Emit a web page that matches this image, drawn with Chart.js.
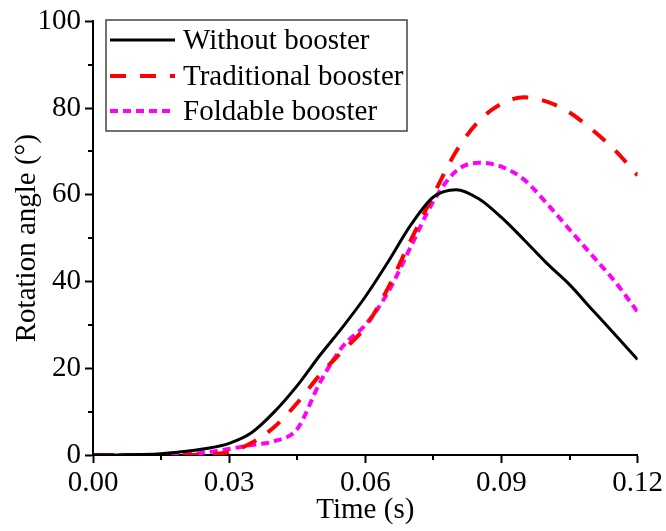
<!DOCTYPE html>
<html>
<head>
<meta charset="utf-8">
<script src="https://cdn.jsdelivr.net/npm/chart.js@4.4.1/dist/chart.umd.min.js"></script>
<style>
  html, body { margin: 0; padding: 0; background: #ffffff; }
  #wrap { width: 666px; height: 531px; }
</style>
</head>
<body>
<div id="wrap"><canvas id="c" width="666" height="531"></canvas></div>
<script>
// ---- data ----
const time = [0, 0.005, 0.01, 0.015, 0.02, 0.025, 0.03, 0.035, 0.04, 0.045, 0.05, 0.055, 0.06, 0.065, 0.07, 0.075, 0.08, 0.085, 0.09, 0.095, 0.1, 0.105, 0.11, 0.115, 0.12];
const withoutBooster = [0, 0, 0.1, 0.3, 0.8, 1.5, 2.7, 5.2, 10, 16, 23, 29.5, 36.5, 44.5, 53, 59.5, 61.2, 59.1, 54.8, 49.6, 44.2, 39.3, 33.5, 27.8, 22];
const traditionalBooster = [0, 0, 0, 0, 0, 0.1, 0.7, 2.8, 6.5, 12, 18.5, 24, 29.5, 38.5, 49.5, 60, 70, 77, 81, 82.5, 81.5, 79, 75, 70.3, 64.5];
const foldableBooster = [0, 0, 0, 0, 0.1, 0.6, 1.4, 2.3, 3.2, 6, 16.7, 25, 30, 37.5, 48, 58.5, 65.5, 67.4, 66.5, 63.5, 58, 52, 46, 40, 33];
const seriesLabels = ['Without booster', 'Traditional booster', 'Foldable booster'];
const xTicks = [0, 0.03, 0.06, 0.09, 0.12];
const yTicks = [0, 20, 40, 60, 80, 100];
const xMinorTicks = [0.015, 0.045, 0.075, 0.105];
const yMinorTicks = [10, 30, 50, 70, 90];

const FONT = '"Liberation Serif", "Times New Roman", serif';
const FSIZE = 29;

function pts(ys) { return time.map((t, i) => ({ x: t, y: ys[i] })); }

const minorTickPlugin = {
  id: 'minorTicks',
  afterDraw(chart) {
    const ctx = chart.ctx;
    const xs = chart.scales.x, ys = chart.scales.y;
    ctx.save();
    ctx.strokeStyle = '#000';
    ctx.lineWidth = 2;
    ctx.beginPath();
    xMinorTicks.forEach(v => {
      const px = Math.round(xs.getPixelForValue(v));
      ctx.moveTo(px, ys.bottom);
      ctx.lineTo(px, ys.bottom + 5);
    });
    yMinorTicks.forEach(v => {
      const py = Math.round(ys.getPixelForValue(v));
      ctx.moveTo(xs.left, py);
      ctx.lineTo(xs.left - 5, py);
    });
    ctx.stroke();
    ctx.restore();
  }
};

const boxLegendPlugin = {
  id: 'boxLegend',
  afterDraw(chart) {
    const ctx = chart.ctx;
    const bx = 106, by = 20, bw = 301, bh = 111;
    ctx.save();
    ctx.fillStyle = '#fff';
    ctx.fillRect(bx, by, bw, bh);
    ctx.strokeStyle = '#444';
    ctx.lineWidth = 1.5;
    ctx.strokeRect(bx, by, bw, bh);
    const rows = [40, 76, 111];
    chart.data.datasets.forEach((ds, i) => {
      const y = rows[i];
      ctx.beginPath();
      ctx.setLineDash(ds.borderDash || []);
      ctx.lineDashOffset = 0;
      ctx.strokeStyle = ds.borderColor;
      ctx.lineWidth = ds.borderWidth;
      ctx.moveTo(110, y);
      ctx.lineTo(175, y);
      ctx.stroke();
      ctx.setLineDash([]);
      ctx.fillStyle = '#000';
      ctx.font = FSIZE + 'px ' + FONT;
      ctx.textBaseline = 'middle';
      ctx.textAlign = 'left';
      ctx.fillText(ds.label, 183, y + 1);
    });
    ctx.restore();
  }
};

new Chart(document.getElementById('c'), {
  type: 'line',
  data: {
    datasets: [
      { label: seriesLabels[0], data: pts(withoutBooster), borderColor: '#000000', borderWidth: 3, borderDash: [], pointRadius: 0, cubicInterpolationMode: 'monotone', fill: false },
      { label: seriesLabels[1], data: pts(traditionalBooster), borderColor: '#ff0000', borderWidth: 4, borderDash: [16, 14], pointRadius: 0, cubicInterpolationMode: 'monotone', fill: false },
      { label: seriesLabels[2], data: pts(foldableBooster), borderColor: '#ff00ff', borderWidth: 4, borderDash: [8, 5], pointRadius: 0, cubicInterpolationMode: 'monotone', fill: false }
    ]
  },
  options: {
    responsive: false,
    animation: false,
    devicePixelRatio: 1,
    layout: { padding: { left: 0, right: 28, top: 17, bottom: 0 } },
    plugins: { legend: { display: false }, tooltip: { enabled: false } },
    scales: {
      x: {
        type: 'linear',
        min: 0, max: 0.12,
        afterBuildTicks(scale) { scale.ticks = xTicks.map(v => ({ value: v })); },
        afterFit(scale) { scale.height = 76; },
        ticks: {
          color: '#000',
          font: { family: FONT, size: FSIZE },
          padding: 3,
          maxRotation: 0,
          callback: v => v.toFixed(2)
        },
        grid: { drawOnChartArea: false, drawTicks: true, tickLength: 8, tickColor: '#000', tickWidth: 2 },
        border: { display: true, color: '#000', width: 2 },
        title: { display: true, text: 'Time (s)', color: '#000', font: { family: FONT, size: FSIZE }, padding: { top: 0, bottom: 3 } }
      },
      y: {
        type: 'linear',
        min: 0, max: 100,
        afterBuildTicks(scale) { scale.ticks = yTicks.map(v => ({ value: v })); },
        afterFit(scale) { scale.width = 93; },
        ticks: {
          color: '#000',
          font: { family: FONT, size: FSIZE },
          padding: 4
        },
        grid: { drawOnChartArea: false, drawTicks: true, tickLength: 8, tickColor: '#000', tickWidth: 2 },
        border: { display: true, color: '#000', width: 2 },
        title: { display: true, text: 'Rotation angle (°)', color: '#000', font: { family: FONT, size: FSIZE }, padding: { top: 10, bottom: 0 } }
      }
    }
  },
  plugins: [minorTickPlugin, boxLegendPlugin]
});
</script>
</body>
</html>
